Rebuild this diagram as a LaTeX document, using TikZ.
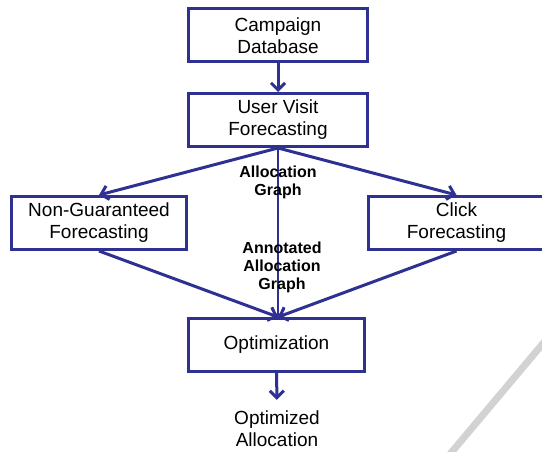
\documentclass[tikz,border=0pt]{standalone}
\usepackage{fontspec}
\setmainfont{Liberation Sans}
\usetikzlibrary{arrows.meta}
\definecolor{flowblue}{RGB}{46,49,146}

\tikzset{
    procbox/.style={draw=flowblue, line width=3pt, align=center, inner sep=0pt,
        minimum height=53pt, font=\fontsize{19}{22}\selectfont},
    flowarrow/.style={draw=flowblue, line width=3pt,
        -{Straight Barb[length=7pt, width=14pt]}},
    thinarrow/.style={draw=flowblue, line width=1.2pt,
        -{Straight Barb[length=7pt, width=13pt]}},
    edgelabel/.style={align=center, inner sep=0pt, font=\fontsize{16}{18}\selectfont\bfseries}
}

\begin{document}
\begin{tikzpicture}[x=1pt, y=-1pt]
    \useasboundingbox (0,0) rectangle (542,452);

    % Boxes
    \node[procbox, minimum width=179pt] (db)  at (278, 35.5) {Campaign\\Database};
    \node[procbox, minimum width=179pt] (uvf) at (278, 120)  {User Visit\\Forecasting};
    \node[procbox, minimum width=175pt] (ngf) at (99, 223)   {Non-Guaranteed\\Forecasting};
    \node[procbox, minimum width=177pt] (cf)  at (456.5, 223) {Click\\Forecasting};
    \node[procbox, minimum width=176pt] (opt) at (276.5, 345) {Optimization};
    \node[align=center, inner xsep=0pt, inner ysep=11pt, font=\fontsize{19}{22}\selectfont]
        (res) at (277, 429) {Optimized\\Allocation};

    % Connectors
    \draw[flowarrow] (db) -- (uvf);
    \draw[flowarrow] (uvf.south) -- (ngf.north);
    \draw[flowarrow] (uvf.south) -- (cf.north);
    \draw[thinarrow] (uvf.south) -- (uvf.south |- opt.north);
    \draw[flowarrow] (ngf.south) -- (uvf.south |- opt.north);
    \draw[flowarrow] (cf.south) -- (uvf.south |- opt.north);
    \draw[flowarrow] (opt) -- (res);

    % Labels
    \node[edgelabel] (alloc) at (278, 182) {Allocation\\Graph};
    \node[edgelabel] (annot) at (282, 267.5) {Annotated\\Allocation\\Graph};

    % page corner stroke
    \draw[gray!35, line width=7pt] (440,466) -- (556,328);
\end{tikzpicture}
\end{document}
